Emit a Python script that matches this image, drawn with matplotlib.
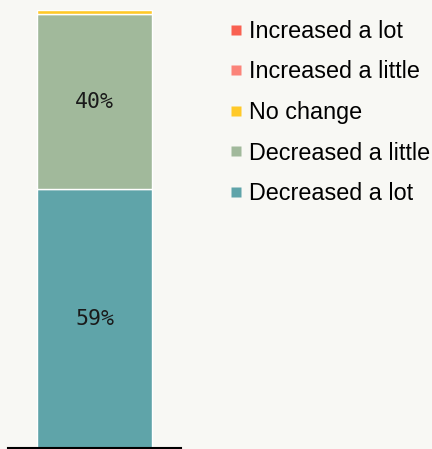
import matplotlib
matplotlib.use("Agg")
import matplotlib.pyplot as plt
from matplotlib.lines import Line2D

# Stacked shares, bottom to top
categories = ["Decreased a lot", "Decreased a little", "No change",
              "Increased a little", "Increased a lot"]
shares = [59, 40, 1, 0, 0]
colors = ["#5fa4a9", "#a1b99b", "#ffc928", "#fb8479", "#f96151"]

BG = "#f8f8f4"

fig = plt.figure(figsize=(4.32, 4.49), dpi=100, facecolor=BG)
ax = fig.add_axes([8 / 432, 1 / 449, 173 / 432, 438.5 / 449], facecolor=BG)

bottom = 0
for cat, val, col in zip(categories, shares, colors):
    if val <= 0:
        continue
    ax.bar(0, val, bottom=bottom, width=0.665, color=col,
           edgecolor="white", linewidth=1.0)
    if val >= 10:
        ax.text(0, bottom + val / 2, f"{val}%", ha="center", va="center",
                fontsize=15.5, family="DejaVu Sans Mono", color="#1a1a1a")
    bottom += val

ax.set_xlim(-0.5, 0.5)
ax.set_ylim(0, 100)
ax.set_xticks([])
ax.set_yticks([])
for side in ["top", "left", "right"]:
    ax.spines[side].set_visible(False)
ax.spines["bottom"].set_linewidth(1.5)
ax.spines["bottom"].set_color("black")

# Legend lists top segment first
handles = [Line2D([], [], marker="s", linestyle="none", markersize=7.5,
                  markerfacecolor=c, markeredgecolor="none")
           for c in reversed(colors)]
fig.legend(handles, list(reversed(categories)), loc="upper left",
           bbox_to_anchor=(209 / 432, 1 + 1 / 449), frameon=False,
           handlelength=0.5, handletextpad=0.3, labelspacing=0.75,
           prop={"family": "Liberation Sans", "size": 16.8})

fig.savefig("out.png", dpi=100, facecolor=BG)
